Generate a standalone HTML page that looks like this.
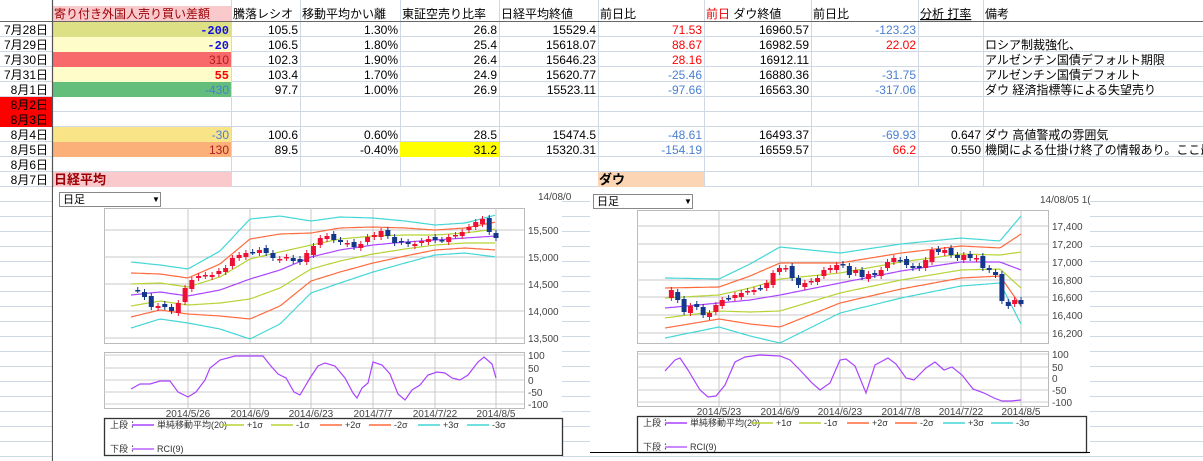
<!DOCTYPE html>
<html><head><meta charset="utf-8">
<style>
html,body{margin:0;padding:0;background:#fff;width:1203px;height:461px;overflow:hidden}
svg{display:block}
text{font-family:"Liberation Sans","Noto Sans CJK JP",sans-serif;font-size:12px;fill:#000}
.r{text-anchor:end}
.s{font-size:10px;fill:#444}
.l{font-size:9px;fill:#333}
</style></head><body>
<svg id="s" width="1203" height="461" xmlns="http://www.w3.org/2000/svg">
<g id="grid"></g>
<rect x="52" y="6" width="179" height="15" fill="#f9c9cc"/>
<rect x="52" y="22" width="179" height="15" fill="#dde085"/>
<rect x="52" y="37" width="179" height="15" fill="#fefcc8"/>
<rect x="52" y="52" width="179" height="15" fill="#f8696b"/>
<rect x="52" y="67" width="179" height="15" fill="#fefcc8"/>
<rect x="52" y="82" width="179" height="15" fill="#63be7b"/>
<rect x="0" y="97" width="52" height="30" fill="#ff0000"/>
<rect x="52" y="127" width="179" height="15" fill="#f9e587"/>
<rect x="52" y="142" width="179" height="15" fill="#fbaf79"/>
<rect x="400" y="142" width="99" height="15" fill="#ffff00"/>
<rect x="52" y="172" width="179" height="15" fill="#f9c9cc"/>
<rect x="598" y="172" width="106" height="15" fill="#fcd5b4"/>
<line x1="0" y1="21.5" x2="1203" y2="21.5" stroke="#666" stroke-width="1"/>
<line x1="52.5" y1="0" x2="52.5" y2="461" stroke="#555" stroke-width="1.2"/>
<text x="54" y="18" style="fill:#9c0006">寄り付き外国人売り買い差額</text>
<text x="233" y="18">騰落レシオ</text>
<text x="302" y="18">移動平均かい離</text>
<text x="402" y="18">東証空売り比率</text>
<text x="501" y="18">日経平均終値</text>
<text x="600" y="18">前日比</text>
<text x="706" y="18"><tspan style="fill:#e00">前日</tspan>  ダウ終値</text>
<text x="813" y="18">前日比</text>
<text x="920" y="18" text-decoration="underline">分析 打率</text>
<text x="985" y="18">備考</text>
<g id="rows"></g>
<g id="charts"></g>
</svg>
<script>
const S=document.getElementById('s');
const NS='http://www.w3.org/2000/svg';
function el(p,t,a,txt){const e=document.createElementNS(NS,t);for(const k in a)e.setAttribute(k,a[k]);if(txt!==undefined)e.textContent=txt;p.appendChild(e);return e;}
const grid=document.getElementById('grid');
for(let y=21.5;y<461;y+=15){el(grid,'line',{x1:0,y1:y,x2:1203,y2:y,stroke:'#d0d7e5'});}
[231,300,400,499,598,704,811,918,983].forEach(x=>el(grid,'line',{x1:x+.5,y1:0,x2:x+.5,y2:187,stroke:'#d0d7e5'}));
const rows=document.getElementById('rows');
const data=[
['7月28日','-200','105.5','1.30%','26.8','15529.4','71.53','16960.57','-123.23','',''],
['7月29日','-20','106.5','1.80%','25.4','15618.07','88.67','16982.59','22.02','','ロシア制裁強化、'],
['7月30日','310','102.3','1.90%','26.4','15646.23','28.16','16912.11','','','アルゼンチン国債デフォルト期限'],
['7月31日','55','103.4','1.70%','24.9','15620.77','-25.46','16880.36','-31.75','','アルゼンチン国債デフォルト'],
['8月1日','-430','97.7','1.00%','26.9','15523.11','-97.66','16563.30','-317.06','','ダウ  経済指標等による失望売り'],
['8月2日','','','','','','','','','',''],
['8月3日','','','','','','','','','',''],
['8月4日','-30','100.6','0.60%','28.5','15474.5','-48.61','16493.37','-69.93','0.647','ダウ  高値警戒の雰囲気'],
['8月5日','130','89.5','-0.40%','31.2','15320.31','-154.19','16559.57','66.2','0.550','機関による仕掛け終了の情報あり。ここ最近'],
['8月6日','','','','','','','','','',''],
['8月7日','','','','','','','','','','']];
const bcol=['#1010e0','#1010e0','#b02020','#ff0000','#4a7fd0','','','#4a7fd0','#b02020'];
const bbold=[1,1,0,1,0,0,0,0,0];
const rx=[229,298,398,497,596,702,809,916,981];
data.forEach((r,i)=>{const y=34+i*15;
 el(rows,'text',{x:48,y:y,class:'r'},r[0]);
 for(let c=1;c<=9;c++){if(!r[c])continue;let st='';
  if(c==1){st='fill:'+bcol[i]+(bbold[i]?';font-weight:bold;font-family:Liberation Mono,monospace':'');}
  if(c==6||c==8){st='fill:'+(r[c][0]=='-'?'#4a7fd0':'#ff0000');}
  el(rows,'text',{x:rx[c-1],y:y,class:'r',style:st},r[c]);}
 if(r[10])el(rows,'text',{x:985,y:y},r[10]);
});
el(rows,'text',{x:54,y:184,style:'font-weight:bold;fill:#9c0006;font-size:13px'},'日経平均');
el(rows,'text',{x:599,y:184,style:'font-weight:bold;font-size:13px'},'ダウ');

const C=document.getElementById('charts');
function interp(pts,x){for(let i=0;i<pts.length-1;i++){if(x>=pts[i][0]&&x<=pts[i+1][0]){const t=(x-pts[i][0])/(pts[i+1][0]-pts[i][0]);return pts[i].slice(1).map((v,k)=>v+t*(pts[i+1][k+1]-v));}}return pts[pts.length-1].slice(1);}
function chart(o){
 el(C,'rect',{x:o.bx,y:o.by,width:o.bw,height:o.bh,fill:'#fff'});
 el(C,'rect',{x:o.dd[0]+.5,y:o.dd[1]+.5,width:o.dd[2],height:14,fill:'#fff',stroke:'#888'});
 el(C,'text',{x:o.dd[0]+4,y:o.dd[1]+11,style:'font-size:11px'},'日足');
 el(C,'text',{x:o.dd[0]+o.dd[2]-8,y:o.dd[1]+10,style:'font-size:8px'},'▼');
 el(C,'text',{x:o.stamp[0],y:o.stamp[1],class:'s'},o.stamp[2]);
 const [px1,py1,px2,py2]=o.plot;
 el(C,'rect',{x:px1+.5,y:py1+.5,width:px2-px1,height:py2-py1,fill:'#fff',stroke:'#bbb'});
 o.ylab.forEach(([t,y])=>{el(C,'line',{x1:px1,y1:y,x2:px2,y2:y,stroke:'#c8c8c8'});el(C,'text',{x:px2+4,y:y+4,class:'s'},t);});
 const [rx1,ry1,rx2,ry2]=o.rci;
 el(C,'rect',{x:rx1+.5,y:ry1+.5,width:rx2-rx1,height:ry2-ry1,fill:'#fff',stroke:'#bbb'});
 o.rlab.forEach(([t,y])=>{el(C,'line',{x1:rx1,y1:y,x2:rx2,y2:y,stroke:'#ccc'});el(C,'text',{x:rx2+4,y:y+4,class:'s'},t);});
 o.vx.forEach((x,i)=>{el(C,'line',{x1:x,y1:py1,x2:x,y2:py2,stroke:'#c8c8c8'});el(C,'line',{x1:x,y1:ry1,x2:x,y2:ry2,stroke:'#c8c8c8'});el(C,'text',{x:x,y:ry2+9,class:'s','text-anchor':'middle'},o.dates[i]);});
 const cols={0:'#aa44ff',1:'#b5d334',2:'#ff6a3d',3:'#44d6d6'};
 for(const k of [3,-3,2,-2,1,-1,0]){let d='';for(let x=o.x0;x<=o.x1;x+=2){const [m,s]=interp(o.ma,x);d+=(d?'L':'M')+x+' '+(m-k*s).toFixed(1);}
  el(C,'path',{d:d,fill:'none',stroke:cols[Math.abs(k)],'stroke-width':1.2});}
 const n=o.cl.length,step=(o.x1-o.x0)/(n-1);
 for(let i=1;i<n;i++){const x=o.x0+i*step,a=o.cl[i-1]+((i*7)%5-2),b=o.cl[i];const up=b<a;const c=up?'#ee1133':'#13378a';
  el(C,'line',{x1:x,y1:Math.min(a,b)-3,x2:x,y2:Math.max(a,b)+3,stroke:c});
  el(C,'rect',{x:x-2.5,y:Math.min(a,b),width:5,height:Math.max(Math.abs(b-a),1.5),fill:c});}
 el(C,'polyline',{points:o.rv.map(p=>p.join(',')).join(' '),fill:'none',stroke:'#aa44ff','stroke-width':1.2});
 const [lx1,ly1,lx2,ly2]=o.leg;
 el(C,'rect',{x:lx1+.5,y:ly1+.5,width:lx2-lx1,height:ly2-ly1,fill:'#fff',stroke:'#333','stroke-width':1.3});
 el(C,'text',{x:lx1+6,y:ly1+10,class:'l'},'上段：');
 el(C,'text',{x:lx1+6,y:ly1+34,class:'l'},'下段：');
 const items=[['#aa44ff','単純移動平均(20)'],['#b5d334','+1σ'],['#b5d334','-1σ'],['#ff6a3d','+2σ'],['#ff6a3d','-2σ'],['#44d6d6','+3σ'],['#44d6d6','-3σ']];
 let x=lx1+28;items.forEach(([c,t],i)=>{el(C,'line',{x1:x,y1:ly1+7,x2:x+22,y2:ly1+7,stroke:c,'stroke-width':1.5});el(C,'text',{x:x+25,y:ly1+10,class:'l'},t);x+=(i==0?o.a0:o.a1);});
 el(C,'line',{x1:lx1+28,y1:ly1+31,x2:lx1+50,y2:ly1+31,stroke:'#cc88ff','stroke-width':2});
 el(C,'text',{x:lx1+53,y:ly1+34,class:'l'},'RCI(9)');
}
chart({bx:53,by:188,bw:509,bh:273,dd:[59,192,101],stamp:[538,200,'14/08/0'],plot:[104,208,524,343],
 ylab:[['15,500',230],['15,000',257],['14,500',284],['14,000',311],['13,500',338]],
 rci:[104,352,524,408],rlab:[['100',355],['50',368],['0',380],['-50',392],['-100',404]],
 vx:[188,250,311,373,435,496],dates:['2014/5/26','2014/6/9','2014/6/23','2014/7/7','2014/7/22','2014/8/5'],
 x0:131,x1:496,a0:90,a1:49,
 ma:[[131,295,11],[160,292,9],[188,296,9],[220,290,13],[250,279,20],[280,270,18],[311,257,12],[340,250,11],[373,245,9],[405,242,7],[435,240,5],[465,238,5],[496,236,7]],
 cl:[290,290,297,307,306,307,311,303,288,280,276,275,275,271,268,258,255,253,252,250,253,258,259,257,261,262,253,246,238,236,240,242,243,247,244,237,235,231,236,243,242,244,244,241,239,240,240,237,235,232,227,222,219,232,238],
 rv:[[131,389],[140,384],[150,384],[160,381],[170,381],[178,392],[188,397],[196,392],[205,380],[210,368],[220,360],[235,356],[250,356],[263,356],[270,365],[278,374],[286,378],[294,392],[300,395],[310,378],[318,366],[325,363],[335,366],[345,378],[353,393],[357,398],[362,388],[368,383],[373,362],[382,365],[390,374],[398,394],[405,400],[412,390],[420,385],[428,375],[437,372],[445,373],[452,378],[460,380],[468,375],[478,362],[484,357],[492,364],[496,378]],
 leg:[104,418,562,455]});
chart({bx:590,by:188,bw:500,bh:265,dd:[593,194,99],stamp:[1040,203,'14/08/05 1('],plot:[637,210,1048,343],
 ylab:[['17,400',226],['17,200',244],['17,000',262],['16,800',280],['16,600',297],['16,400',315],['16,200',333]],
 rci:[637,351,1048,406],rlab:[['100',354],['50',367],['0',378],['-50',390],['-100',402]],
 vx:[719,780,840,901,961,1021],dates:['2014/5/23','2014/6/9','2014/6/23','2014/7/8','2014/7/22','2014/8/5'],
 x0:665,x1:1021,a0:86,a1:48,
 ma:[[665,308,10],[719,303,8],[750,300,12],[780,295,16],[810,289,13],[840,283,10],[901,271,9],[961,262,8],[1000,262,7],[1021,270,18]],
 cl:[298,290,300,312,306,307,315,313,305,300,298,295,293,291,290,288,283,273,268,268,278,285,283,281,278,270,268,265,265,275,270,277,274,275,270,262,258,260,265,268,268,260,250,252,250,255,258,255,258,258,268,270,275,301,306,300,304],
 rv:[[665,371],[675,360],[680,358],[688,370],[700,390],[708,397],[716,396],[725,385],[735,362],[745,357],[760,355],[780,356],[790,360],[800,370],[812,383],[820,390],[830,383],[840,360],[846,359],[855,366],[866,393],[875,365],[888,358],[896,364],[906,378],[914,380],[926,368],[935,362],[944,370],[952,367],[962,375],[973,389],[984,393],[994,398],[1002,401],[1011,401],[1021,400]],
 leg:[637,416,1086,452]});
el(C,'line',{x1:590,y1:452.5,x2:1090,y2:452.5,stroke:'#000'});
</script>
</body></html>
